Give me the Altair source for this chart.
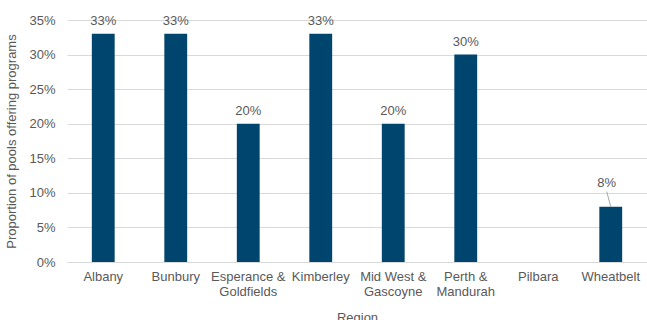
import altair as alt
import pandas as pd

regions = [
    "Albany",
    "Bunbury",
    "Esperance &\nGoldfields",
    "Kimberley",
    "Mid West &\nGascoyne",
    "Perth &\nMandurah",
    "Pilbara",
    "Wheatbelt",
]
share = [0.33, 0.33, 0.20, 0.33, 0.20, 0.30, None, 0.08]

df = pd.DataFrame({"region": regions, "share": share})

FONT = "Arial, Liberation Sans"
GREY = "#595959"
BAR = "#00456E"
FS = 13

x = alt.X(
    "region:N",
    title="Region",
    sort=regions,
    scale=alt.Scale(domain=regions, paddingInner=0.685, paddingOuter=0.3425),
    axis=alt.Axis(
        labelAngle=0,
        labelExpr="split(datum.label, '\\n')",
        labelFontSize=FS,
        labelColor=GREY,
        labelFont=FONT,
        labelPadding=8,
        labelLineHeight=15,
        ticks=False,
        domainColor="#d9d9d9",
        titleFont=FONT,
        titleFontSize=FS,
        titleFontWeight="normal",
        titleColor=GREY,
        titlePadding=13,
    ),
)
y = alt.Y(
    "share:Q",
    title="Proportion of pools offering programs",
    scale=alt.Scale(domain=[0, 0.35], nice=False),
    axis=alt.Axis(
        format=".0%",
        values=[0, 0.05, 0.10, 0.15, 0.20, 0.25, 0.30, 0.35],
        labelFontSize=FS,
        labelColor=GREY,
        labelFont=FONT,
        labelPadding=12,
        ticks=False,
        domain=False,
        gridColor="#d9d9d9",
        titleFont=FONT,
        titleFontSize=FS,
        titleFontWeight="normal",
        titleColor=GREY,
        titlePadding=10,
    ),
)

base = alt.Chart(df)

bars = base.mark_bar(color=BAR).encode(x=x, y=y)

labels = (
    base.transform_filter("datum.region != 'Wheatbelt'")
    .mark_text(font=FONT, fontSize=FS, color=GREY, baseline="middle", dy=-13)
    .encode(x=x, y=y, text=alt.Text("share:Q", format=".0%"))
)

# the small bar's label sits higher, joined to the bar by a leader line
small_label = (
    base.transform_filter("datum.region == 'Wheatbelt'")
    .mark_text(font=FONT, fontSize=FS, color=GREY, baseline="middle", dy=-24, dx=-4)
    .encode(x=x, y=y, text=alt.Text("share:Q", format=".0%"))
)
leader = (
    base.transform_filter("datum.region == 'Wheatbelt'")
    .mark_rule(color="#a6a6a6", strokeWidth=1, y2Offset=-15, x2Offset=-4)
    .encode(x=x, x2="region:N", y=y, y2="share:Q")
)

chart = (
    alt.layer(bars, leader, labels, small_label)
    .properties(
        width=580,
        height=242,
        padding={"left": 67, "top": 20, "right": 0, "bottom": 58},
        autosize=alt.AutoSizeParams(type="none"),
        background="white",
    )
    .configure_view(stroke=None)
)

chart.save("out.html", embed_options={"renderer": "svg", "actions": False})
